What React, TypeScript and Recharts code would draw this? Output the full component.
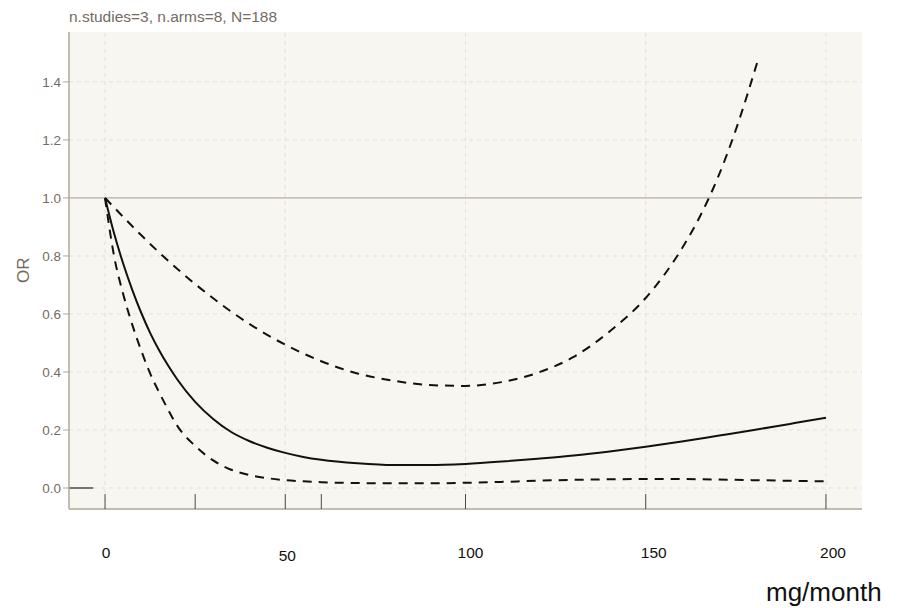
import React from 'react';
import { ComposedChart, Line, XAxis, YAxis, ReferenceLine, CartesianGrid } from 'recharts';

// dose grid (mg/month) for estimate and lower bound
const doseX = [0, 2.5, 5, 7.5, 10, 12.5, 15, 17.5, 20, 25, 30, 35, 40, 45, 50, 55, 60, 70, 80, 90, 100, 110, 120, 130, 140, 150, 160, 170, 180, 190, 200];
const orEstimate = [1.0, 0.878, 0.775, 0.685, 0.605, 0.535, 0.475, 0.422, 0.375, 0.297, 0.238, 0.193, 0.162, 0.139, 0.121, 0.107, 0.097, 0.085, 0.079, 0.079, 0.083, 0.091, 0.101, 0.112, 0.126, 0.142, 0.16, 0.18, 0.2, 0.221, 0.242];
const orLower = [1.0, 0.8, 0.67, 0.565, 0.475, 0.395, 0.33, 0.27, 0.215, 0.145, 0.095, 0.063, 0.045, 0.034, 0.027, 0.023, 0.02, 0.017, 0.016, 0.016, 0.018, 0.021, 0.025, 0.028, 0.03, 0.031, 0.031, 0.029, 0.027, 0.025, 0.023];
// upper bound (ends where it leaves the plotted range)
const upperX = [0, 5, 10, 15, 20, 25, 30, 35, 40, 45, 50, 60, 70, 80, 90, 100, 110, 120, 130, 140, 150, 160, 165, 170, 175, 181];
const orUpper = [1.0, 0.935, 0.872, 0.812, 0.756, 0.703, 0.654, 0.608, 0.566, 0.528, 0.494, 0.437, 0.395, 0.37, 0.355, 0.352, 0.365, 0.397, 0.452, 0.54, 0.655, 0.825, 0.935, 1.07, 1.235, 1.47];

const xTicks = [0, 25, 50, 60, 100, 150, 200];
const xLabelTicks = [0, 50, 100, 150, 200];
const xGrid = [0, 50, 100, 150, 200];
const yTicks = [0, 0.2, 0.4, 0.6, 0.8, 1.0, 1.2, 1.4];
const yGridDashed = [0, 0.2, 0.4, 0.6, 0.8, 1.2, 1.4];
const refOR = 1.0;
const titleText = 'n.studies=3, n.arms=8, N=188';
const yLabel = 'OR';
const xLabel = 'mg/month';

const estData = doseX.map((x, i) => ({ x, y: orEstimate[i] }));
const lowData = doseX.map((x, i) => ({ x, y: orLower[i] }));
const upData = upperX.map((x, i) => ({ x, y: orUpper[i] }));

const FONT = '"Liberation Sans", Arial, Helvetica, sans-serif';
const AXIS_COL = '#b3a797';
const GRID_COL = '#e7e0d3';
const TEXT_GRAY = '#756b62';

const labelShift: Record<number, [number, number]> = {
  0: [1, 0],
  50: [2, 3.5],
  100: [5, 0],
  150: [8, 0],
  200: [7, 0],
};

const XTick = (props: any) => {
  const { x, y, payload } = props;
  const v = payload.value as number;
  const show = xLabelTicks.includes(v);
  const off = labelShift[v] || [0, 0];
  return (
    <g>
      <line x1={x} x2={x} y1={y - 15} y2={y} stroke="#4a4a4a" strokeWidth={1} />
      {show && (
        <text x={x + off[0]} y={y + 48.5 + off[1]} textAnchor="middle" fontSize={15.5} fill="#111" fontFamily={FONT}>
          {v}
        </text>
      )}
    </g>
  );
};

export default function App() {
  return (
    <div style={{ position: 'relative', width: 893, height: 600 }}>
      <ComposedChart width={893} height={600} margin={{ top: 24, right: 39, left: 21, bottom: 49 }}>
        <CartesianGrid horizontal={false} vertical={false} fill="#f8f6f1" stroke="none" />
        {xGrid.map((g) => (
          <ReferenceLine key={'vx' + g} x={g} stroke={GRID_COL} strokeDasharray="4 4" strokeWidth={1} />
        ))}
        {yGridDashed.map((g) => (
          <ReferenceLine key={'hy' + g} y={g} stroke={GRID_COL} strokeDasharray="4 4" strokeWidth={1} />
        ))}
        <ReferenceLine y={refOR} stroke="#b7aea4" strokeWidth={1.2} />
        <ReferenceLine segment={[{ x: -10, y: 0 }, { x: -3.3, y: 0 }]} stroke="#222" strokeWidth={1.2} ifOverflow="extendDomain" />
        <XAxis
          type="number"
          dataKey="x"
          domain={[-10, 210]}
          allowDataOverflow
          ticks={xTicks}
          interval={0}
          height={50}
          tickSize={0}
          tickMargin={0}
          tickLine={false}
          axisLine={{ stroke: AXIS_COL, strokeWidth: 1.5 }}
          tick={<XTick />}
        />
        <YAxis
          type="number"
          domain={[-0.0724, 1.572]}
          allowDataOverflow
          ticks={yTicks}
          interval={0}
          width={40}
          tickSize={6}
          tickMargin={2}
          tickFormatter={(v: number) => v.toFixed(1)}
          tick={{ fontSize: 13.5, fill: TEXT_GRAY, fontFamily: FONT }}
          tickLine={{ stroke: AXIS_COL }}
          axisLine={{ stroke: AXIS_COL, strokeWidth: 1.5 }}
        />
        <Line data={upData} dataKey="y" type="monotone" stroke="#111" strokeWidth={2} strokeDasharray="9 7" dot={false} isAnimationActive={false} />
        <Line data={lowData} dataKey="y" type="monotone" stroke="#111" strokeWidth={2} strokeDasharray="9 7" dot={false} isAnimationActive={false} />
        <Line data={estData} dataKey="y" type="monotone" stroke="#111" strokeWidth={2} dot={false} isAnimationActive={false} />
      </ComposedChart>
      <svg width={893} height={600} style={{ position: 'absolute', left: 0, top: 0, pointerEvents: 'none' }}>
        <text x={61} y={13.7} textAnchor="start" fontSize={15.5} fill={TEXT_GRAY} fontFamily={FONT}>{titleText}</text>
        <text x={15.7} y={262.3} transform="rotate(-90 15.7 262.3)" textAnchor="middle" dominantBaseline="central" fontSize={17} fill={TEXT_GRAY} fontFamily={FONT}>{yLabel}</text>
        <text x={758} y={593} textAnchor="start" fontSize={26} fill="#111" fontFamily={FONT}>{xLabel}</text>
      </svg>
    </div>
  );
}
